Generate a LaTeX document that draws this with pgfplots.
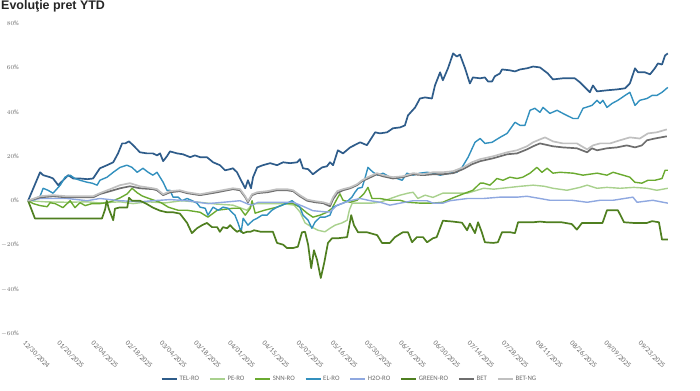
\documentclass[border=0pt]{standalone}
\usepackage{pgfplots}
\pgfplotsset{compat=1.18}
\usepackage{fontspec}
\setmainfont{Carlito}
\newfontfamily\titlefont{Liberation Sans}
\definecolor{telc}{HTML}{2E5C8A}
\definecolor{pec}{HTML}{A9D18E}
\definecolor{snnc}{HTML}{6AAA30}
\definecolor{elc}{HTML}{3290BE}
\definecolor{h2oc}{HTML}{8FA8E0}
\definecolor{greenc}{HTML}{4F7F20}
\definecolor{betc}{HTML}{6E6E6E}
\definecolor{betngc}{HTML}{C0C0C0}
\definecolor{tickgray}{HTML}{6A6A6A}
\begin{document}
\begin{tikzpicture}
\begin{axis}[
  name=ax, at={(0,0)}, anchor=south west, scale only axis,
  width=651bp, height=311bp,
  xmin=-1.2, xmax=189.2, ymin=-60, ymax=80,
  axis line style={draw=none}, major tick length=0, tick style={draw=none},
  ytick={-60,-40,...,80},
  yticklabel={\pgfmathprintnumber{\tick}\%},
  yticklabel style={font=\fontsize{6.5}{7}\selectfont, text=tickgray, anchor=east, inner sep=0pt, xshift=-5bp},
  xtick={0,10,...,180},
  xticklabels={12/30/2024,01/20/2025,02/04/2025,02/18/2025,03/04/2025,03/18/2025,04/01/2025,04/15/2025,05/02/2025,05/16/2025,05/30/2025,06/16/2025,06/30/2025,07/14/2025,07/28/2025,08/11/2025,08/26/2025,09/09/2025,09/23/2025},
  xticklabel style={font=\fontsize{7.2}{8}\selectfont, text=tickgray, anchor=north west, inner sep=0pt, yshift=-6bp, xshift=-2bp, rotate=-45},
  legend columns=8,
  legend style={at={(0.5,-0.145)}, anchor=center, draw=none, fill=none, font=\fontsize{6.8}{8}\selectfont, text=tickgray, /tikz/every even column/.append style={column sep=8bp}},
  legend cell align=left,
  legend image code/.code={\draw[#1] (0bp,0bp) -- (15bp,0bp);},
  every axis plot/.append style={line join=round, no markers, line width=1.4bp},
]
% TEL-RO
\addplot[telc, line width=1.7bp] coordinates {
(0,0)(3.5,12.8)(4.4,11.5)(6.4,10.6)(7.3,10)(8.8,7)(10.8,10)(11.7,11.5)(13.2,10)(15.2,10)(17.3,9.7)(19,10)(21,14.6)(23.1,16)(24.9,17.3)(26.3,21.3)(27.5,25.8)(28.4,25.8)(29.5,26.7)(30.7,25)(32.7,21.8)(34.8,21.3)(36.5,21.3)(37.7,20.4)(38.6,21.3)(39.5,17.8)(40.6,20)(41.5,22.2)(43.6,21.3)(45.3,20.9)(47.4,19.6)(48.8,20.4)(50.3,19.6)(52.3,19.6)(54.1,17.3)(56.1,16)(57.6,13.7)(59.1,14.2)(59.9,14.6)(61.1,12.8)(62,10)(63.5,5.6)(64.3,9.2)(65.2,5.6)(65.8,10.6)(67,15)(68.7,16)(70.8,16.9)(72.8,16)(74.6,17.3)(76.6,16.9)(78.7,17.3)(79.5,18.7)(80.4,14.6)(81.9,14.2)(83.3,11.9)(84.8,13.7)(86,15)(87.4,15.5)(88.3,17.3)(89.2,16)(90.6,22.7)(92.1,21.3)(94.2,24)(97.1,26.3)(99.1,25)(101.5,30.8)(102.9,30.3)(105,30.8)(106.7,32.6)(108.8,33)(110.2,33.9)(111.1,38.4)(113.2,42)(114.6,46)(116.1,46.5)(118.1,46)(119,51.9)(120.5,57.8)(121.3,54.2)(122.8,59.6)(124.3,66.3)(125.4,64.9)(126.3,65.8)(127.8,59.6)(129.2,52.8)(130.1,55.5)(132.2,55.1)(133.6,55.5)(134.5,53.7)(135.7,53.7)(136.5,56)(138,57.3)(138.6,59.1)(140.9,58.7)(142.4,58.2)(143.9,59.1)(145.9,59.6)(147.7,60.4)(149.7,60)(152,57.3)(153.5,54.6)(156.4,55.1)(159.9,55.1)(161.4,53.3)(162.9,51)(164.3,48.8)(165.2,51.9)(166.4,49.2)(169.3,49.7)(172.2,50.1)(174.6,50.6)(176,52.8)(177.5,59.6)(178.4,57.8)(180.4,57.8)(181.9,56.9)(183.3,59.6)(184.2,61.8)(185.4,61.3)(186.3,65.4)(187.1,66.3)
};
\addlegendentry{TEL-RO}
% PE-RO
\addplot[pec] coordinates {
(0,0)(5,-0.5)(11.4,-0.7)(17.3,-0.5)(21,-1)(26.9,-0.5)(30.7,-1.3)(35,-0.5)(40,-1)(45,0)(50,-0.7)(55,-1.5)(59.9,-2)(64,-4.3)(65.8,-1.3)(70,-1.3)(74.6,-1.3)(77.8,-2)(79.5,-5)(81,-10)(83,-11.9)(84.8,-13.3)(86.8,-14)(88.3,-12.4)(89.8,-11)(91.8,-10)(93.3,-8.8)(94,-4)(94.8,-1.1)(97.4,-1.1)(100.4,-1.1)(102.9,-0.7)(106,1)(108.8,2.5)(111.1,3.4)(112.6,3.8)(114,1)(116.1,2.5)(118.4,1.5)(121.3,3.4)(124.3,3.4)(128.5,3.4)(133.2,5.6)(136.2,5.2)(141,6)(144,6.5)(147.7,7)(151,6.5)(153.5,5.6)(157.6,4.7)(161.4,6)(163.5,7)(166.4,5.6)(169.3,6)(173.1,5.6)(177.2,6)(181,5.6)(183.9,4.7)(187.1,5.6)
};
\addlegendentry{PE-RO}
% SNN-RO
\addplot[snnc] coordinates {
(0,0)(1.5,-1.3)(3.5,-2.2)(5.6,-2.7)(6.4,-0.9)(7.9,-1.3)(10.2,-3.1)(12.3,0)(13.7,-3.1)(15.2,-0.9)(16.7,-2.2)(18.7,-1.3)(21,-1.3)(23.1,-0.9)(24.9,0)(26.9,1.3)(29,3.1)(30.4,5.6)(31.9,3.6)(33.3,2.2)(34.8,1.3)(38.9,-0.9)(41,-2.9)(43.9,-4.3)(46.5,-4.3)(50.3,-5.2)(52.6,-7.4)(55.3,-4.3)(59.9,-3.4)(62,-3.4)(63.5,-6.5)(65,-3.4)(65.5,0)(66.4,-5.6)(69.1,-4.3)(72.8,-2.9)(75.7,-1.1)(77.5,-1.3)(79.5,-2.9)(81.6,-5.6)(83.3,-7.4)(85.4,-6.5)(87.4,-5.2)(88.9,-3.4)(90.4,1)(91.2,3.1)(92.1,0.2)(94.2,-0.7)(96.2,0.2)(98.2,3.1)(99.4,6)(100.6,1)(102.9,1)(105.8,0.2)(108.8,0.2)(110.8,-0.7)(114.8,-1.1)(118.4,-1.1)(121.3,-0.7)(124.3,1.3)(128.5,3.8)(130.1,4.7)(132.2,7.9)(133.2,7.9)(135.1,7)(137.1,10)(138.9,9.2)(140.9,10.6)(143,10)(144.7,10.6)(146.8,12.4)(148.8,15)(150.3,12.8)(151.8,14.6)(153.5,12.4)(155.6,12.8)(159.4,12.4)(162.3,11.5)(166.4,12.4)(169.3,11.5)(171.1,12.8)(174,11.5)(176,10.6)(177.5,8.3)(179.5,7.9)(181.3,9.2)(183.3,9.2)(185.4,10)(186.3,13.7)(187.1,13.7)
};
\addlegendentry{SNN-RO}
% EL-RO
\addplot[elc] coordinates {
(0,0)(2,0.5)(3.5,2)(4.4,5.6)(5.8,4.7)(7.3,3.4)(9.4,7)(10.8,10.6)(12.3,11.5)(13.7,10)(15.2,9.2)(17.3,8.3)(18.7,7.9)(20.2,7)(21,9.2)(23.1,10.6)(24.9,12.8)(26.9,15)(28.9,16)(30.4,15)(31.9,12.8)(33.6,14.6)(35.1,12.8)(36.5,11.5)(37.7,12.8)(39.5,8.3)(40.6,4.7)(41.5,4.7)(42.4,1.6)(43.9,1.6)(45,0)(46.5,1)(48,0)(49.4,-1.1)(50.3,-2.9)(51.8,-3.4)(52.6,-6.5)(54.1,-2.9)(55.6,-4.3)(57,-2.9)(58.5,-3.4)(59.6,-5.2)(60.5,-6.5)(61.4,-10)(62.3,-14.2)(62.9,-7.9)(64.3,-11)(65.8,-8.8)(67,-7.9)(68.4,-6.5)(69.9,-6.5)(71.3,-4.3)(72.8,-2.9)(74.3,-2)(75.7,-1.1)(77.2,0)(78.1,-1.1)(79.5,-2.9)(80.4,-6.5)(81.9,-8.8)(83,-12.4)(83.9,-9.7)(85.4,-7.4)(86.8,-7.4)(88.3,-6.5)(89.2,-2.9)(90.6,-2)(92.1,-1.1)(93.6,0)(94.7,1.6)(95.6,3.8)(96.5,5.6)(97.7,6)(98.5,10)(99.4,15)(100.9,12.8)(102.3,11.5)(103.8,12.4)(105.8,10.6)(107.9,10)(109.4,9.2)(110.8,12.4)(112.6,11.5)(114.6,12.4)(116.7,12.8)(118.4,12.4)(120.5,11.5)(123.4,12.4)(125.4,12.8)(126.9,15)(128.7,19.6)(130.7,26.3)(132.2,28)(133.6,25.8)(135.7,26.3)(138,28.5)(140.1,30.3)(142.4,35.3)(143.9,33.9)(145.3,33.9)(146.8,40.7)(148.2,41.6)(149.7,39.8)(150.6,42)(152.6,39.3)(154.7,40.7)(156.4,39.3)(159.4,37)(160.8,37)(162.3,41.6)(164.9,42.9)(166.4,45.2)(167.3,43.8)(168.1,45.2)(169.3,42)(170.8,43.8)(172.5,45.2)(174.6,47.4)(176,48.8)(177.5,42.9)(178.9,45.2)(181,46)(182.5,47.4)(183.9,47.4)(185.4,48.8)(187.1,51)
};
\addlegendentry{EL-RO}
% H2O-RO
\addplot[h2oc] coordinates {
(0,0)(3.5,1)(11.4,1)(17.3,0)(21,1)(26.9,0)(32.7,-0.5)(36.5,0)(41.5,0.5)(46.5,0)(52.6,-1.3)(58.5,-0.5)(62,0)(64.3,-1.5)(65.5,-2)(67.3,-0.7)(70,-0.7)(74.6,-0.7)(77.5,-0.7)(80.4,-2.5)(83.3,-4.5)(86.8,-5)(88.3,-5)(90.4,-2)(92.1,-1.1)(94.2,0)(97.1,1)(100.1,0)(103,-0.7)(105.8,-2)(108.8,-1.1)(112.6,0)(116.7,0)(118.4,-1.1)(121.3,-1.1)(123.4,0)(128.5,1)(133.2,1)(138,1.6)(143,1.6)(145.9,2)(149.7,1)(152.6,0.2)(159,0.2)(163.5,-0.7)(167.3,0.2)(171.1,0.2)(176.9,1.6)(178.1,-0.7)(182.7,0.2)(187.1,-1.1)
};
\addlegendentry{H2O-RO}
% GREEN-RO
\addplot[greenc, line width=1.7bp] coordinates {
(0,0)(1.5,-6)(2,-8)(21.6,-8)(22.5,-4)(23,0)(23.6,-3.6)(24.9,-8.8)(25.4,-3.6)(26.6,-3.1)(29,-3.1)(29.5,1.3)(30.4,0)(32.7,0)(34.5,-1.3)(36.5,-3.1)(38.6,-4.5)(40.6,-5.2)(42.4,-5.2)(44.4,-5.8)(46.5,-10)(47.9,-14.6)(49.4,-12.4)(50.9,-11)(52.3,-10)(53.8,-11.9)(55.3,-11.9)(56.1,-14)(57,-11.9)(58.2,-12.4)(59.1,-11)(59.9,-12.4)(61.1,-14)(62,-13.3)(62.9,-14.6)(64,-14)(65,-14)(66.1,-13.3)(68.1,-14)(70,-14)(71.6,-14)(72.8,-19)(74.6,-19.8)(75.7,-21.3)(77.5,-21.3)(78.9,-20.7)(80.1,-14.2)(81,-14)(81.9,-19.8)(82.8,-30.4)(83.6,-22.3)(84.5,-26.5)(85.6,-34.8)(86.6,-28)(87.7,-19)(88.9,-16.9)(90.6,-16.9)(93.3,-16.4)(94.5,-6.5)(95.3,-11)(96.5,-14.2)(99.1,-14.2)(102.1,-15.5)(103.5,-19)(105.8,-19)(107.3,-16.4)(109.6,-14.2)(111.1,-14.2)(112.3,-18.7)(113.7,-16.4)(115.5,-16.4)(116.7,-18.7)(118.4,-16.9)(119.5,-16.4)(121.1,-9.9)(121.3,-9)(124.3,-9.4)(126.9,-9.9)(128.4,-13.3)(129.2,-10.3)(130.7,-14.6)(131.6,-9.7)(132.7,-14.2)(133.6,-18.7)(136,-19)(137.4,-18.7)(138.6,-14.2)(141,-14.2)(142.4,-14.6)(143.3,-9.7)(145.9,-9.7)(147.7,-9.7)(149.7,-9.4)(151.8,-9.7)(156,-9.7)(159,-10.5)(160.5,-13)(162,-10)(168,-10)(169.3,-4.3)(172.5,-4.3)(174.3,-9.7)(177,-10)(181,-10)(182.5,-9.2)(184.5,-9.7)(185.4,-17.5)(187.1,-17.5)
};
\addlegendentry{GREEN-RO}
% BET
\addplot[betc, line width=1.7bp] coordinates {
(0,0)(3.5,1.5)(7.3,2)(11.4,1.5)(15.2,1.5)(19,1.5)(21,3)(24,4.3)(26.9,5.6)(29.8,6.5)(32.7,5.6)(36.5,5.2)(37.7,4.7)(39.5,2.5)(41.5,3.8)(44.4,4.3)(46.5,3.4)(50.3,2.5)(55.3,3.8)(59.9,5.2)(62,4.7)(63.5,1.6)(64.3,-0.7)(65.5,2.5)(67,3.4)(69.9,3.8)(72.8,4.7)(75.7,4.7)(77.5,4.3)(79.5,2)(81.6,0)(83.9,-0.7)(86.3,-1.1)(88.3,-2.5)(89.2,0.7)(90.4,3.4)(92.1,4.7)(94.2,5.6)(96.2,7)(97.7,8.8)(99.4,10)(102,11.9)(103.8,11)(106.7,10)(109.6,10.6)(112.6,11.9)(115.5,11.5)(118.4,11.9)(121.3,11.9)(124.3,12.4)(127.2,14.2)(129.8,16.4)(132.2,17.8)(136,19.1)(140.1,20.9)(143,21.3)(145.9,23.1)(147.7,24.5)(149.7,25.8)(153.5,24.5)(156.4,24)(160.5,23.6)(163.5,21.8)(164.9,23.6)(166.4,22.7)(169.3,23.6)(172.2,24)(175.1,24.9)(177.5,24)(179.5,24.9)(181,27.2)(183.3,28)(186.8,29)
};
\addlegendentry{BET}
% BET-NG
\addplot[betngc, line width=1.7bp] coordinates {
(0,0)(3.5,2)(7.3,2.5)(11.4,2)(15.2,2)(19,2)(21,3.4)(24,5.2)(26.9,7)(29.8,7.9)(32.7,6.5)(36.5,5.6)(37.7,5.2)(39.5,2.9)(41.5,4.3)(44.4,4.7)(46.5,3.8)(50.3,2.9)(55.3,4.3)(59.9,5.6)(62,5.2)(63.5,2)(64.3,-0.2)(65.5,2.9)(67,3.8)(69.9,4.3)(72.8,5.2)(75.7,5.2)(77.5,4.7)(79.5,2.5)(81.6,0.5)(83.9,-0.2)(86.3,-0.7)(88.3,-1.6)(89.2,1.6)(90.4,4.3)(92.1,5.2)(94.2,6)(96.2,7.4)(97.7,9.2)(99.4,10.6)(102,12.4)(103.8,11.5)(106.7,10.6)(109.6,11)(112.6,12.4)(115.5,11.9)(118.4,12.8)(121.3,12.8)(124.3,13.3)(127.2,15)(129.8,17.3)(132.2,18.7)(136,20)(140.1,21.8)(143,22.7)(145.9,24.5)(147.7,26.3)(149.7,27.6)(151.2,28.5)(153.5,26.7)(156.4,25.8)(160.5,25.8)(163.5,23.1)(165.2,24.9)(167.3,25.8)(170.2,25.8)(173.1,27.2)(176,28.5)(178.9,28)(181.3,30.3)(183.9,30.8)(186.8,32.1)
};
\addlegendentry{BET-NG}
\end{axis}
\path (ax.south west) ++(-24bp,-57bp) coordinate (O);
\path (O) rectangle ++(700bp,391bp);
\path (O) ++(1bp,391bp) node[anchor=north west, inner sep=0pt, font=\titlefont\bfseries\fontsize{12.5}{14}\selectfont, text=black!85] {Evoluţie pret YTD};
\end{tikzpicture}
\end{document}
